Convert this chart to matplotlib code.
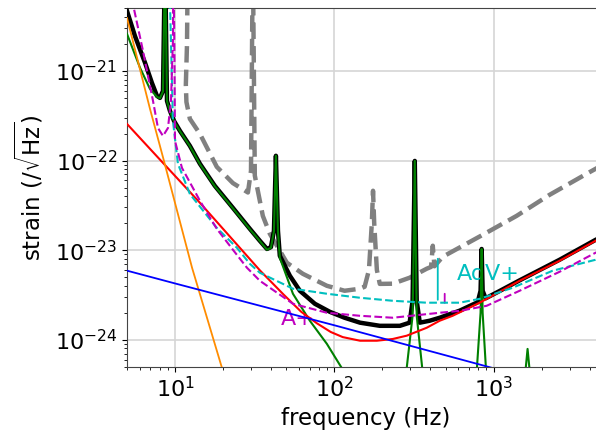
import matplotlib
matplotlib.use('Agg')
import matplotlib.pyplot as plt

# values (frequency in Hz, strain in 1/sqrt(Hz))

# total noise (black) 
total_f = [5.0, 5.61, 6.49, 7.17, 7.71, 8.05, 8.41, 8.66, 8.91, 9.30, 9.86, 10.75, 12.4, 14.35,
           17.8, 23.1, 29.5, 34.1, 37.8, 40.0, 41.8, 43.0, 44.3, 45.5, 52.6, 60.8, 75.5, 93.7,
           116, 145, 193, 258, 297, 310, 320, 329, 344, 397, 459, 612, 794, 828, 841, 853, 891,
           1091, 1456, 2592, 4355, 4965]
total_h = [4.67e-21, 2.45e-21, 1.23e-21, 7.34e-22, 5.26e-22, 5.0e-22, 5.98e-22, 2e-20, 4.63e-22,
           3.58e-22, 2.77e-22, 2.14e-22, 1.46e-22, 9.18e-23, 5.21e-23, 2.96e-23, 1.73e-23,
           1.27e-23, 1.03e-23, 1.08e-23, 1.64e-23, 1.13e-22, 1.64e-23, 8.65e-24, 5.18e-24,
           3.52e-24, 2.52e-24, 2.05e-24, 1.76e-24, 1.55e-24, 1.43e-24, 1.43e-24, 1.55e-24,
           2.72e-24, 9.9e-23, 2.72e-24, 1.55e-24, 1.63e-24, 1.76e-24, 2.11e-24, 2.62e-24,
           3.52e-24, 1.03e-23, 3.52e-24, 2.9e-24, 3.5e-24, 4.6e-24, 7.8e-24, 1.3e-23, 1.45e-23]

# suspension thermal (green)
sus_f = [5.0, 6.04, 6.97, 7.71, 8.05, 8.41, 8.66, 8.91, 9.30, 9.86, 10.75, 12.4, 14.35, 17.8,
         23.1, 29.5, 34.1, 37.8, 40.0, 41.8, 43.0, 44.3, 45.5, 55.0, 70.2, 89.8, 111, 150, 220,
         285, 310, 315, 320, 325, 329, 356, 450, 600, 780, 828, 841, 853, 900, 1200, 1550,
         1633, 1720, 2500, 5000]
sus_h = [2.59e-21, 1.08e-21, 6.29e-22, 5.13e-22, 4.95e-22, 5.9e-22, 2e-20, 4.6e-22, 3.55e-22,
         2.75e-22, 2.12e-22, 1.45e-22, 9.1e-23, 5.15e-23, 2.93e-23, 1.71e-23, 1.26e-23,
         1.01e-23, 1.06e-23, 1.62e-23, 1.13e-22, 1.62e-23, 8.22e-24, 3.26e-24, 1.63e-24,
         9.0e-25, 4.88e-25, 1.9e-25, 1.2e-25, 4.9e-25, 1.85e-24, 1e-23, 9.9e-23, 1e-23,
         1.85e-24, 4.9e-25, 1.3e-25, 1.2e-25, 4e-25, 2e-24, 1.03e-23, 2e-24, 4e-25, 1.5e-25,
         3e-25, 7.9e-25, 3e-25, 1e-25, 8e-26]

# quantum (red)
quant_f = [5.0, 6.97, 14.35, 34.1, 48.0, 62.0, 78.0, 95.0, 113, 145, 185, 233, 285, 380, 459,
           553, 817, 1456, 2592, 4355, 4965]
quant_h = [2.56e-22, 1.35e-22, 3.37e-23, 5.95e-24, 3.2e-24, 2.05e-24, 1.52e-24, 1.22e-24,
           1.07e-24, 9.75e-25, 9.75e-25, 1.02e-24, 1.11e-24, 1.36e-24, 1.63e-24, 1.85e-24,
           2.59e-24, 4.55e-24, 7.6e-24, 1.27e-23, 1.41e-23]

# seismic (orange)
seis_f = [5.0, 6.97, 8.53, 12.8, 19.7, 30]
seis_h = [3.9e-21, 3.77e-22, 9.9e-23, 6.36e-24, 4.88e-25, 4e-26]

# coating thermal (blue)
coat_f = [5, 10, 100, 1000, 5000]
coat_h = [5.9e-24, 4.25e-24, 1.45e-24, 4.8e-25, 2.2e-25]

# AdV+ (cyan dashed)
advp_f = [9.3, 9.71, 10.44, 12.4, 18.3, 24.5, 29.5, 34.1, 55.0, 89.8, 145, 233, 380, 612, 817,
          1315, 2345, 4355, 4965]
advp_h = [6e-21, 2.77e-22, 9.18e-23, 4.24e-23, 1.77e-23, 1.06e-23, 7.04e-24, 5.59e-24,
          3.71e-24, 3.26e-24, 2.94e-24, 2.72e-24, 2.59e-24, 2.59e-24, 2.86e-24, 3.8e-24,
          5.89e-24, 7.8e-24, 8.6e-24]

# A+ (magenta dashed)
aplus_f = [5.3, 6.30, 7.28, 7.82, 8.41, 9.04, 9.44, 9.71, 9.78, 9.93, 10.0, 11.06, 14.35, 18.3,
           23.1, 28.3, 34.1, 55.0, 89.8, 145, 233, 459, 612, 903, 1456, 2592, 4355, 4965]
aplus_h = [7e-21, 1.67e-21, 4.63e-22, 2.31e-22, 1.88e-22, 2.31e-22, 4.63e-22, 2.16e-21, 2e-20,
           1.29e-21, 1.66e-22, 8.28e-23, 3.55e-23, 1.73e-23, 1.01e-23, 6.36e-24, 4.55e-24,
           2.52e-24, 2.0e-24, 1.85e-24, 1.76e-24, 2.0e-24, 2.1e-24, 2.39e-24, 3.52e-24,
           5.73e-24, 9.34e-24, 1.03e-23]

# older detector (gray dashed)
gray_f = [12.0, 11.9, 11.7, 11.8, 12.4, 14.35, 18.3, 23.1, 28.7, 30.0, 30.8, 31.7, 35.6, 39.4,
          50.4, 63.5, 89.8, 116, 145, 155, 165, 172, 175, 178, 185, 193, 233, 297, 380, 405,
          415, 425, 479, 853, 1393, 2244, 3828, 4965]
gray_h = [1e-20, 2e-21, 7e-22, 4.5e-22, 2.92e-22, 1.98e-22, 8.5e-23, 5.6e-23, 4.4e-23, 7.67e-23,
          2e-20, 6.8e-23, 2.41e-23, 1.52e-23, 7.23e-24, 5.44e-24, 4.0e-24, 3.52e-24, 3.71e-24,
          3.9e-24, 6e-24, 2e-23, 4.6e-23, 2e-23, 6e-24, 4.2e-24, 4.22e-24, 4.92e-24, 6.2e-24,
          6.5e-24, 1.12e-23, 6.6e-24, 8.43e-24, 1.48e-23, 2.41e-23, 4.14e-23, 7.1e-23, 9.18e-23]

xticks = [10, 100, 1000]
yticks = [1e-24, 1e-23, 1e-22, 1e-21]


fig = plt.figure(figsize=(5.96, 4.30), dpi=100)
ax = fig.add_axes([0.2131, 0.1472, 0.802, 0.8335])

ax.loglog(gray_f, gray_h, color='gray', ls='--', lw=3.2, zorder=2)
ax.loglog(total_f, total_h, color='k', lw=3.2, zorder=3)
ax.loglog(sus_f, sus_h, color='green', lw=1.5, zorder=4)
ax.loglog(quant_f, quant_h, color='red', lw=1.5, zorder=4)
ax.loglog(seis_f, seis_h, color='darkorange', lw=1.3, zorder=4)
ax.loglog(coat_f, coat_h, color='blue', lw=1.3, zorder=4)
ax.loglog(advp_f, advp_h, color='c', ls='--', lw=1.5, zorder=5)
ax.loglog(aplus_f, aplus_h, color='m', ls='--', lw=1.5, zorder=5)

# labels with short leader lines
ax.annotate('', xy=(446, 2.6e-24), xytext=(446, 8.6e-24),
            arrowprops=dict(arrowstyle='-', color='c', lw=1.3))
ax.text(590, 5.4e-24, 'AdV+', color='c', fontsize=16, va='center', ha='left')
ax.annotate('', xy=(493, 2.4e-24), xytext=(493, 3.5e-24),
            arrowprops=dict(arrowstyle='-', color='m', lw=1.3))
ax.text(59, 1.72e-24, 'A+', color='m', fontsize=16, va='center', ha='center')

ax.set_xlim(5, 5000)
ax.set_ylim(5e-25, 5e-21)
ax.set_xticks(xticks)
ax.set_yticks(yticks)
ax.grid(True, which='major', color='#d5d5d5', lw=1.2)
ax.tick_params(labelsize=16)
ax.set_xlabel('frequency (Hz)', fontsize=16.5)
ax.set_ylabel(r'strain $(/\sqrt{\mathrm{Hz}})$', fontsize=16.5, labelpad=7)
for s in ax.spines.values():
    s.set_color('#444444')

fig.savefig('out.png', dpi=100)
